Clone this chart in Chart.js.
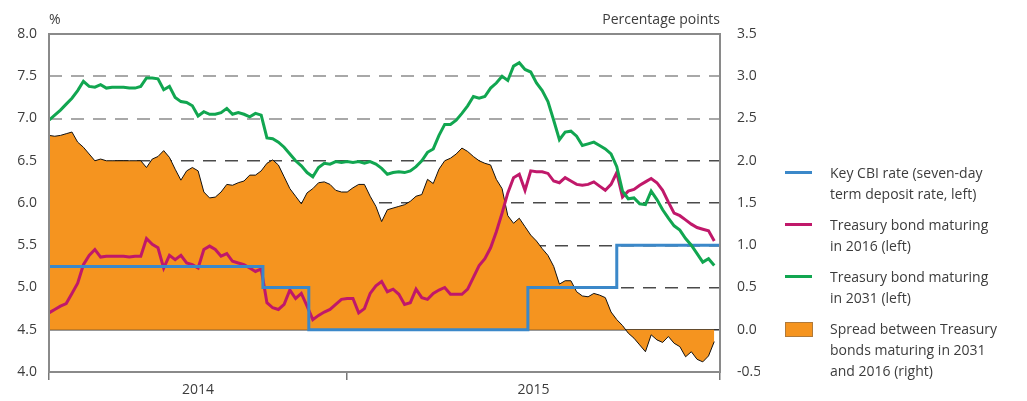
<!DOCTYPE html>
<html>
<head>
<meta charset="utf-8">
<script src="https://cdn.jsdelivr.net/npm/chart.js@4.4.1/dist/chart.umd.min.js"></script>
<style>
  body { margin: 0; background: #fff; }
  #wrap { position: relative; width: 1027px; height: 401px; }
  #legend { position: absolute; left: 785px; top: 162px; font-family: 'Open Sans', sans-serif; font-size: 14px; line-height: 21px; color: #3c3c3c; }
  .item { position: relative; padding-left: 45px; margin-bottom: 10px; white-space: nowrap; }
  .sw { position: absolute; left: 0; top: 9px; width: 27px; height: 3px; }
  .box { position: absolute; left: 0; top: 4px; width: 26px; height: 13px; border: 1px solid #b07a3a; }
</style>
</head>
<body>
<div id="wrap">
  <canvas id="chartRates" width="1027" height="401"></canvas>
  <div id="legend"></div>
</div>
<script>
// x = week index, 2014 starts at 0, 2015 at 52
const xTicks = [0, 26, 52, 84.5, 117];
const xTickLabels = ['', '2014', '', '2015', ''];

// key rate, stepped (left axis, %)
const keyRateWeeks = [0, 37.3, 45.3, 83.5, 99, 117];
const keyRate = [5.25, 5.0, 4.5, 5.0, 5.5, 5.5];

// weekly values, left axis (%)
const bond2016 = [
  4.70,4.74,4.78,4.81,4.93,5.05,5.27,5.38,5.45,5.36,
  5.37,5.37,5.37,5.37,5.36,5.37,5.37,5.58,5.51,5.47,
  5.23,5.38,5.33,5.38,5.29,5.27,5.23,5.45,5.49,5.45,
  5.37,5.40,5.31,5.29,5.27,5.23,5.19,5.22,4.82,4.76,
  4.74,4.80,4.97,4.87,4.93,4.78,4.62,4.67,4.71,4.74,
  4.80,4.86,4.87,4.87,4.70,4.75,4.93,5.02,5.07,4.95,
  4.98,4.92,4.80,4.82,4.98,4.88,4.86,4.93,4.97,5.00,
  4.92,4.92,4.92,4.98,5.12,5.26,5.34,5.47,5.66,5.88,
  6.12,6.30,6.34,6.15,6.38,6.37,6.37,6.35,6.26,6.24,
  6.30,6.26,6.22,6.21,6.22,6.25,6.20,6.15,6.22,6.36,
  6.07,6.14,6.16,6.21,6.25,6.29,6.24,6.15,6.01,5.88,
  5.85,5.80,5.75,5.71,5.69,5.67,5.55
];
const bond2031 = [
  6.98,7.04,7.10,7.17,7.24,7.33,7.44,7.38,7.37,7.40,
  7.36,7.37,7.37,7.37,7.36,7.36,7.38,7.48,7.48,7.47,
  7.34,7.38,7.25,7.20,7.19,7.15,7.03,7.08,7.05,7.05,
  7.07,7.12,7.05,7.07,7.05,7.02,7.06,7.04,6.77,6.76,
  6.72,6.66,6.58,6.50,6.44,6.36,6.31,6.42,6.47,6.46,
  6.49,6.48,6.49,6.48,6.49,6.47,6.49,6.46,6.41,6.34,
  6.36,6.37,6.36,6.38,6.43,6.50,6.60,6.64,6.80,6.93,
  6.93,6.98,7.06,7.15,7.26,7.24,7.26,7.36,7.42,7.50,
  7.45,7.62,7.66,7.58,7.55,7.42,7.33,7.20,6.98,6.75,
  6.84,6.85,6.79,6.68,6.70,6.72,6.68,6.64,6.58,6.43,
  6.14,6.05,6.06,5.99,5.98,6.14,6.04,5.92,5.82,5.73,
  5.68,5.58,5.50,5.40,5.30,5.34,5.26
];
// weekly spread, right axis (percentage points)
const spread = [
  2.30,2.29,2.30,2.32,2.34,2.22,2.16,2.08,2.00,2.02,
  2.00,2.00,2.00,2.00,2.00,2.00,2.00,1.92,2.02,2.05,
  2.12,2.04,1.90,1.77,1.88,1.92,1.88,1.63,1.56,1.57,
  1.63,1.72,1.71,1.74,1.76,1.83,1.83,1.88,1.97,2.01,
  1.95,1.81,1.67,1.58,1.49,1.62,1.67,1.74,1.75,1.72,
  1.65,1.63,1.63,1.68,1.72,1.72,1.58,1.46,1.28,1.42,
  1.44,1.46,1.48,1.52,1.58,1.60,1.78,1.73,1.90,2.00,
  2.03,2.08,2.15,2.11,2.05,2.00,1.97,1.95,1.78,1.67,
  1.35,1.26,1.32,1.22,1.12,1.05,0.96,0.88,0.75,0.54,
  0.58,0.58,0.45,0.40,0.39,0.43,0.41,0.38,0.21,0.12,
  0.05,-0.04,-0.10,-0.18,-0.26,-0.06,-0.12,-0.15,-0.08,-0.16,
  -0.20,-0.32,-0.26,-0.35,-0.38,-0.31,-0.14
];

const seriesNames = [
  ['Key CBI rate (seven-day', 'term deposit rate, left)'],
  ['Treasury bond maturing', 'in 2016 (left)'],
  ['Treasury bond maturing', 'in 2031 (left)'],
  ['Spread between Treasury', 'bonds maturing in 2031', 'and 2016 (right)']
];

const BLUE = '#3b88c9', MAGENTA = '#c0186a', GREEN = '#11a650', ORANGE = '#f5941f';
const txt = '#3c3c3c';
const weekly = arr => arr.map((v, i) => ({ x: i, y: v }));

// frame + unit labels
const frame = {
  id: 'frame',
  afterDraw(chart) {
    const { ctx, chartArea: a } = chart;
    ctx.save();
    ctx.strokeStyle = '#8a8a8a';
    ctx.lineWidth = 2;
    ctx.strokeRect(a.left, a.top, a.right - a.left, a.bottom - a.top);
    ctx.fillStyle = txt;
    ctx.font = '14px "Open Sans"';
    ctx.textAlign = 'left';
    ctx.fillText('%', a.left, 24);
    ctx.textAlign = 'right';
    ctx.fillText('Percentage points', a.right, 24);
    ctx.restore();
  }
};

const data = {
  datasets: [
    { label: seriesNames[2].join(' '), data: weekly(bond2031), yAxisID: 'y', borderColor: GREEN, borderWidth: 3, pointRadius: 0, order: 0 },
    { label: seriesNames[0].join(' '), data: keyRateWeeks.map((w, i) => ({ x: w, y: keyRate[i] })), yAxisID: 'y', borderColor: BLUE, borderWidth: 3, pointRadius: 0, stepped: 'before', order: 1 },
    { label: seriesNames[1].join(' '), data: weekly(bond2016), yAxisID: 'y', borderColor: MAGENTA, borderWidth: 3, pointRadius: 0, order: 2 },
    { label: seriesNames[3].join(' '), data: weekly(spread), yAxisID: 'y1', borderColor: '#111', borderWidth: 1, backgroundColor: ORANGE, fill: 'origin', pointRadius: 0, order: 3 }
  ]
};

const config = {
  type: 'line',
  data: data,
  options: {
    responsive: false,
    animation: false,
    layout: { padding: { left: 0, right: 267, top: 34, bottom: 0 } },
    plugins: { legend: { display: false }, tooltip: { enabled: false } },
    scales: {
      x: {
        type: 'linear', min: 0, max: 117,
        afterBuildTicks(s) { s.ticks = xTicks.map(v => ({ value: v })); },
        afterFit(s) { s.height = 29; },
        ticks: {
          autoSkip: false, maxRotation: 0, padding: 2, color: txt,
          font: { family: 'Open Sans', size: 14 },
          callback: v => xTickLabels[xTicks.indexOf(v)]
        },
        grid: {
          drawOnChartArea: false, tickLength: 8, lineWidth: 1.5,
          tickColor: c => (xTickLabels[xTicks.indexOf(c.tick.value)] ? 'rgba(0,0,0,0)' : '#777')
        },
        border: { display: false }
      },
      y: {
        position: 'left', min: 4, max: 8,
        afterFit(s) { s.width = 49; },
        ticks: { stepSize: 0.5, padding: 12, color: txt, font: { family: 'Open Sans', size: 14 }, callback: v => v.toFixed(1) },
        grid: {
          drawTicks: false,
          color: c => {
            const v = c.tick.value;
            if (v === 8 || v === 4) return 'rgba(0,0,0,0)';
            if (v === 4.5) return '#333';
            return v >= 7 ? '#a8a8a8' : '#4a4a4a';
          },
          lineWidth: c => (c.tick.value >= 7 ? 2 : 1.5)
        },
        border: { display: false, dash: c => (c.tick && c.tick.value === 4.5 ? [] : [13, 9]) }
      },
      y1: {
        position: 'right', min: -0.5, max: 3.5,
        afterFit(s) { s.width = 40; },
        ticks: { stepSize: 0.5, padding: 9, color: txt, font: { family: 'Open Sans', size: 14 }, callback: v => v.toFixed(1) },
        grid: { display: false },
        border: { display: false }
      }
    }
  },
  plugins: [frame]
};

const node = document.getElementById('chartRates');
const chartRates = new Chart(node, config);

// legend as html
const swatches = [BLUE, MAGENTA, GREEN];
const legend = document.getElementById('legend');
seriesNames.forEach((lines, i) => {
  const item = document.createElement('div');
  item.className = 'item';
  const sw = document.createElement('span');
  if (i < 3) { sw.className = 'sw'; sw.style.background = swatches[i]; }
  else { sw.className = 'box'; sw.style.background = ORANGE; }
  item.appendChild(sw);
  item.innerHTML += lines.join('<br>');
  legend.appendChild(item);
});
</script>
</body>
</html>
